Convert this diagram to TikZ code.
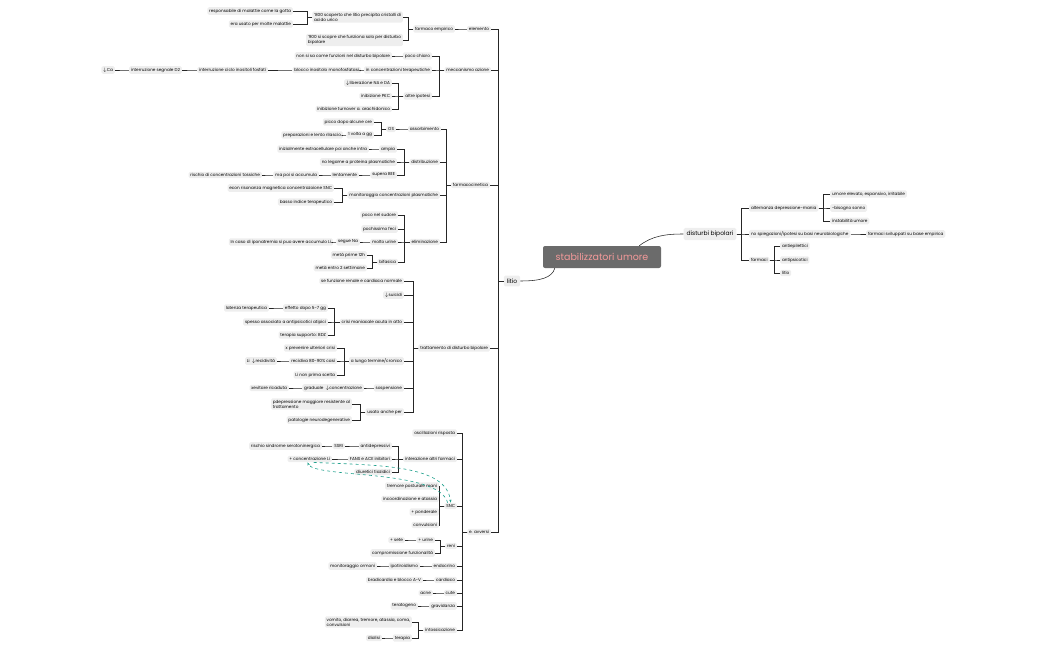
\documentclass[tikz,border=0pt]{standalone}
\usepackage{fontspec}
\setmainfont{Poppins}
\usetikzlibrary{calc,arrows.meta}
\definecolor{rootfill}{HTML}{6B6B6B}
\definecolor{roottext}{HTML}{F49A9A}
\definecolor{boxfill}{HTML}{EEEEEE}
\definecolor{arr}{HTML}{1FA08C}
\tikzset{
  box/.style={fill=boxfill,rounded corners=1.5pt,inner xsep=1.8pt,inner ysep=1.6pt,font=\fontsize{4.2}{4.9}\selectfont,align=left},
  ln/.style={draw=black!85,line width=0.55pt},
  dlink/.style={draw=arr,dashed,line width=0.6pt,-{Stealth[length=3pt]}}
}
\newcommand\kid[5]{\node[box,anchor=east] (#1) at (#3,#4) {#5};\draw[ln] (#2.west) -- ++(-5,0) |- (#1.east);}
\newcommand\rkid[5]{\node[box,anchor=west] (#1) at (#3,#4) {#5};\draw[ln] (#2.east) -- ++(5,0) |- (#1.west);}
\begin{document}
\begin{tikzpicture}[x=1pt,y=-1pt]
\useasboundingbox (0,0) rectangle (1050,650);
\node[fill=rootfill,rounded corners=2pt,text=roottext,font=\fontsize{9.5}{11}\selectfont,minimum width=118pt,minimum height=22pt] (root) at (602,257) {stabilizzatori umore};
\node[box,font=\fontsize{6}{7}\selectfont,inner xsep=3pt,inner ysep=3pt] (lit) at (512,281) {litio};
\node[box,font=\fontsize{6}{7}\selectfont,inner xsep=3pt,inner ysep=3pt] (db) at (710,234) {disturbi bipolari};
\draw[ln] (root.south west)++(12,0) .. controls (552,278) and (540,281) .. (lit.east);
\draw[ln] (root.north east)++(-22,0) .. controls (652,236) and (665,234) .. (db.west);
% right side
\rkid{alt}{db}{749}{208}{alternanza depressione-mania}
\rkid{ume}{alt}{830}{194}{umore elevato, espansivo, irritabile}
\rkid{bis}{alt}{830}{208}{-bisogno sonno}
\rkid{ins}{alt}{830}{221}{instabilità umore}
\rkid{nosp}{db}{749}{234}{no spiegazioni/ipotesi su basi neurobiologiche}
\rkid{fsv}{nosp}{866}{234}{farmaci sviluppati su base empirica}
\rkid{farm}{db}{749}{260}{farmaci}
\rkid{aep}{farm}{780}{246}{antiepilettici}
\rkid{aps}{farm}{780}{260}{antipsicotici}
\rkid{lit2}{farm}{780}{273}{litio}
% elemento
\kid{elem}{lit}{491}{29}{elemento}
\kid{femp}{elem}{455}{29}{farmaco empirico}
\kid{s800}{femp}{403}{17}{'800 scoperto che litio precipita cristalli di\\acido urico}
\kid{resp}{s800}{293}{11}{responsabile di malattie come la gotta}
\kid{erau}{s800}{293}{24}{era usato per molte malattie}
\kid{s900}{femp}{403}{40}{'900 si scopre che funziona solo per disturbo\\bipolare}
% meccanismo
\kid{mecc}{lit}{491}{70}{meccanismo azione}
\kid{poco}{mecc}{432}{56}{poco chiaro}
\kid{nonsi}{poco}{392}{56}{non si sa come funzioni nel disturbo bipolare}
\kid{inconc}{mecc}{432}{70}{in concentrazioni terapeutiche}
\kid{blocco}{inconc}{361}{70}{blocco inositolo monofosfatasi}
\kid{intcic}{blocco}{268}{70}{interruzione ciclo inositoli fosfati}
\kid{intd}{intcic}{182}{70}{interruzione segnale D2}
\kid{ca}{intd}{115}{70}{$\downarrow$Ca}
\kid{altre}{mecc}{432}{96}{altre ipotesi}
\kid{lib}{altre}{392}{83}{$\downarrow$liberazione NA e DA}
\kid{pkc}{altre}{392}{96}{inibizione PKC}
\kid{turn}{altre}{392}{109}{inibizione turnover a. arachidonico}
% farmacocinetica
\kid{fc}{lit}{490}{185}{farmacocinetica}
\kid{ass}{fc}{441}{129}{assorbimento}
\kid{os}{ass}{396}{129}{OS}
\kid{picco}{os}{374}{122}{picco dopo alcune ore}
\kid{volta}{os}{374}{135}{1 volta a gg}
\kid{prep}{volta}{343}{135}{preparazioni e lento rilascio}
\kid{distr}{fc}{440}{162}{distribuzione}
\kid{ampia}{distr}{397}{149}{ampia}
\kid{iniz}{ampia}{369}{149}{inizialmente extracellulare poi anche intra}
\kid{noleg}{distr}{397}{162}{no legame a proteina plasmatiche}
\kid{supera}{distr}{397}{175}{supera BEE}
\kid{lent}{supera}{359}{175}{lentamente}
\kid{mapoi}{lent}{319}{175}{ma poi si accumula}
\kid{risch}{mapoi}{262}{175}{rischio di concentrazioni tossiche}
\kid{mon}{fc}{440}{195}{monitoraggio concentrazioni plasmatiche}
\kid{econ}{mon}{334}{188}{econ risonanza magnetica concentrazoione SNC}
\kid{basso}{mon}{334}{202}{basso indice terapeutico}
\kid{elim}{fc}{440}{242}{eliminazione}
\kid{sud}{elim}{398}{215}{poco nel sudore}
\kid{feci}{elim}{398}{229}{pochissimo feci}
\kid{urine}{elim}{398}{242}{molto urine}
\kid{segue}{urine}{360}{242}{segue Na}
\kid{ipon}{segue}{333}{242}{In caso di iponatremia si puo avere accumulo Li}
\kid{bif}{elim}{398}{262}{bifasica}
\kid{metaa}{bif}{367}{255}{metà prime 12h}
\kid{metab}{bif}{367}{268}{metà entro 2 settimane}
% trattamento
\kid{tratt}{lit}{490}{348}{trattamento di disturbo bipolare}
\kid{se}{tratt}{404}{281}{se funzione renale e cardiaca normale}
\kid{suic}{tratt}{404}{295}{$\downarrow$suicidi}
\kid{crisi}{tratt}{404}{322}{crisi maniacale acuta in atto}
\kid{eff}{crisi}{328}{308}{effetto dopo 5-7 gg}
\kid{lat}{eff}{269}{308}{latenza terapeutica}
\kid{spesso}{crisi}{328}{322}{spesso associato a antipsicotici atipici}
\kid{bdz}{crisi}{328}{335}{terapia supporto: BDZ}
\kid{lungo}{tratt}{404}{361}{a lungo termine/cronico}
\kid{xprev}{lungo}{337}{348}{x prevenire ulteriori crisi}
\kid{recid}{lungo}{337}{361}{recidiva 80-90\% casi}
\kid{lirec}{recid}{277}{361}{Li \ $\downarrow$recidività}
\kid{linon}{lungo}{337}{375}{Li non prima scelta}
\kid{sosp}{tratt}{404}{388}{sospensione}
\kid{grad}{sosp}{364}{388}{graduale \ $\downarrow$concentrazione}
\kid{xev}{grad}{289}{388}{xevitare ricaduta}
\kid{usato}{tratt}{404}{412}{usato anche per}
\kid{pdep}{usato}{352}{404}{pdepressione maggiore resistente al\\trattamento}
\kid{neuro}{usato}{352}{420}{patologie neurodegenerative}
% effetti avversi
\kid{eavv}{lit}{491}{532}{e. avversi}
\kid{osc}{eavv}{457}{433}{oscillazioni risposta}
\kid{inter}{eavv}{457}{459}{interazione altri farmaci}
\kid{antid}{inter}{392}{446}{antidepressivi}
\kid{ssri}{antid}{345}{446}{SSRI}
\kid{serot}{ssri}{322}{446}{rischio sindrome serotoninergica}
\kid{fans}{inter}{392}{459}{FANS e ACE inibitori}
\kid{conc}{fans}{332}{459}{+ concentrazione Li}
\kid{diur}{inter}{392}{472}{diuretici tiazidici}
\kid{snc}{eavv}{457}{506}{SNC}
\kid{trem}{snc}{439}{486}{tremore posturale mani}
\kid{incoo}{snc}{439}{499}{incoordinazione e atassia}
\kid{pond}{snc}{439}{512}{+ ponderale}
\kid{conv}{snc}{439}{525}{convulsioni}
\kid{reni}{eavv}{457}{546}{reni}
\kid{urin}{reni}{435}{540}{+ urine}
\kid{sete}{urin}{405}{540}{+ sete}
\kid{comp}{reni}{435}{553}{compromissione funzionalità}
\kid{endo}{eavv}{457}{566}{endocrino}
\kid{ipot}{endo}{420}{566}{ipotiroidismo}
\kid{ormo}{ipot}{377}{566}{monitoraggio ormoni}
\kid{card}{eavv}{457}{580}{cardiaco}
\kid{brad}{card}{423}{580}{bradicardia e blocco A-V}
\kid{cute}{eavv}{457}{593}{cute}
\kid{acne}{cute}{433}{593}{acne}
\kid{grav}{eavv}{457}{606}{gravidanza}
\kid{terat}{grav}{418}{606}{teratogeno}
\kid{intox}{eavv}{457}{630}{intossicazione}
\kid{vom}{intox}{412}{622}{vomito, diarrea, tremore, atassia, coma,\\convulsioni}
\kid{ter}{intox}{412}{638}{terapia}
\kid{dial}{ter}{382}{638}{dialisi}
% dashed relations
\draw[dlink] ($(conc.south)+(4,0)$) .. controls ($(conc.south)+(70,3)$) and ($(snc.north)+(-4,-38)$) .. (snc.north);
\draw[dlink] ($(snc.north)+(-3,0)$) .. controls ($(snc.north)+(-12,-34)$) and ($(conc.south)+(4,16)$) .. ($(conc.south)+(-2,0)$);
\end{tikzpicture}
\end{document}
